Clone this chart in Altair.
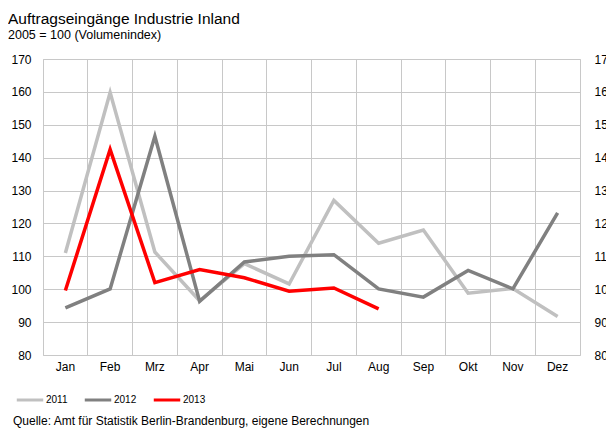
import altair as alt
import pandas as pd

months = ["Jan", "Feb", "Mrz", "Apr", "Mai", "Jun", "Jul", "Aug", "Sep", "Okt", "Nov", "Dez"]
years = ["2011", "2012", "2013"]
v2011 = [111.0, 159.8, 111.3, 96.5, 107.8, 101.6, 127.0, 114.0, 118.0, 98.8, 100.2, 91.7]
v2012 = [94.3, 100.1, 146.5, 96.3, 108.3, 110.0, 110.5, 100.1, 97.6, 105.7, 100.1, 123.2]
v2013 = [99.6, 142.5, 102.0, 106.0, 103.5, 99.4, 100.4, 94.0]
colors = ["#c0c0c0", "#808080", "#ff0000"]
y_ticks = [80, 90, 100, 110, 120, 130, 140, 150, 160, 170]

title_text = "Auftragseingänge Industrie Inland"
subtitle_text = "2005 = 100 (Volumenindex)"
source_text = "Quelle: Amt für Statistik Berlin-Brandenburg, eigene Berechnungen"

rows = []
for yr, vals in zip(years, [v2011, v2012, v2013]):
    for m, v in zip(months, vals):
        rows.append({"Monat": m, "Jahr": yr, "Wert": v})
df = pd.DataFrame(rows)

FONT = "Liberation Sans"
GRID = "#c8c8c8"

xscale = alt.Scale(type="band", domain=months, paddingInner=0, paddingOuter=0)
yscale = alt.Scale(domain=[80, 170], nice=False, zero=False)

base = alt.Chart(df)

grid_layer = base.mark_line(opacity=0).encode(
    x=alt.X("Monat:N", sort=months, scale=xscale, bandPosition=0.5,
            axis=alt.Axis(orient="bottom", bandPosition=0, grid=True, gridColor=GRID,
                          labels=False, ticks=False, domain=False, title=None)),
    y=alt.Y("Wert:Q", scale=yscale,
            axis=alt.Axis(orient="right", values=y_ticks, grid=False, ticks=False,
                          domain=False, labelPadding=14, title=None)),
    detail="Jahr:N",
)

lines = base.mark_line(strokeWidth=3.5).encode(
    x=alt.X("Monat:N", sort=months, scale=xscale, bandPosition=0.5,
            axis=alt.Axis(orient="bottom", grid=False, ticks=False, domain=False,
                          labelAngle=0, labelPadding=6, title=None)),
    y=alt.Y("Wert:Q", scale=yscale,
            axis=alt.Axis(orient="left", values=y_ticks, grid=True, gridColor=GRID,
                          ticks=False, domain=False, labelPadding=12, title=None)),
    color=alt.Color("Jahr:N", scale=alt.Scale(domain=years, range=colors),
                    legend=alt.Legend(orient="none", legendX=-28, legendY=326,
                                      direction="horizontal", title=None,
                                      symbolType="stroke", symbolSize=700,
                                      symbolStrokeWidth=3, labelFontSize=10,
                                      labelFont=FONT, labelOffset=1, columnPadding=10)),
)

title_layer = alt.Chart(pd.DataFrame({"t": [title_text]})).mark_text(
    align="left", baseline="alphabetic", font=FONT, fontSize=15.5, color="black"
).encode(text="t:N", x=alt.value(-35), y=alt.value(-35))

subtitle_layer = alt.Chart(pd.DataFrame({"t": [subtitle_text]})).mark_text(
    align="left", baseline="alphabetic", font=FONT, fontSize=12.5, color="black"
).encode(text="t:N", x=alt.value(-35), y=alt.value(-20))

source_layer = alt.Chart(pd.DataFrame({"t": [source_text]})).mark_text(
    align="left", baseline="alphabetic", font=FONT, fontSize=12, color="black"
).encode(text="t:N", x=alt.value(-30), y=alt.value(366))

chart = alt.layer(grid_layer, lines, title_layer, subtitle_layer, source_layer).resolve_axis(
    x="independent", y="independent"
).properties(
    width=537, height=296,
    padding={"left": 35, "top": 51, "right": 26, "bottom": 74},
    autosize=alt.AutoSizeParams(type="none"),
).configure_view(stroke=GRID, strokeWidth=1).configure_axis(
    labelFont=FONT, labelFontSize=12, labelColor="black"
)

chart.save("out.html", embed_options={"renderer": "svg", "actions": False})
